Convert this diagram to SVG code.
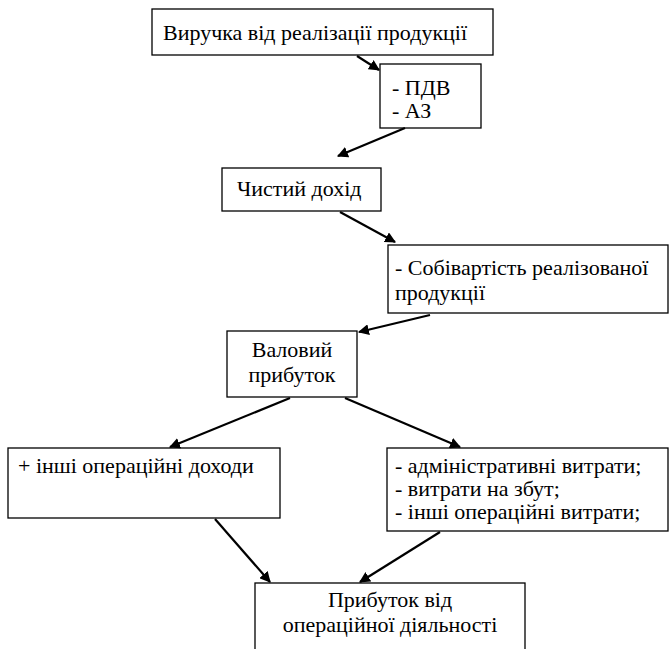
<svg xmlns="http://www.w3.org/2000/svg" width="670" height="649" viewBox="0 0 670 649">
<style>
.box{fill:#fff;stroke:#000;stroke-width:1.3}
.t{font-family:'Liberation Serif','Times New Roman',serif;font-size:22px;fill:#000}
.c{text-anchor:middle}
</style>
<defs>
<marker id="ah" viewBox="0 0 10 10" refX="9" refY="5" markerWidth="5" markerHeight="5" orient="auto" markerUnits="strokeWidth">
<path d="M0,0 L10,5 L0,10 z" fill="#000"/>
</marker>
</defs>
<rect width="670" height="649" fill="#fff"/>
<g id="n1"><rect class="box" x="152" y="9" width="341" height="46"/><text class="t" x="163" y="40">Виручка від реалізації продукції</text></g>
<g id="n2"><rect class="box" x="380" y="64" width="101" height="64"/><text class="t" x="392" y="95">- ПДВ</text><text class="t" x="392" y="118">- АЗ</text></g>
<g id="n3"><rect class="box" x="222" y="168" width="159" height="43"/><text class="t" x="237" y="196">Чистий дохід</text></g>
<g id="n4"><rect class="box" x="388" y="245" width="280" height="68"/><text class="t" x="395" y="275">- Собівартість реалізованої</text><text class="t" x="395" y="300">продукції</text></g>
<g id="n5"><rect class="box" x="227" y="331" width="130" height="66"/><text class="t c" x="292" y="357">Валовий</text><text class="t c" x="292" y="382">прибуток</text></g>
<g id="n6"><rect class="box" x="8" y="448" width="272" height="70"/><text class="t" x="18" y="473">+ інші операційні доходи</text></g>
<g id="n7"><rect class="box" x="387" y="448" width="281" height="83"/><text class="t" x="395" y="473">- адміністративні витрати;</text><text class="t" x="395" y="496">- витрати на збут;</text><text class="t" x="395" y="519">- інші операційні витрати;</text></g>
<g id="n8"><rect class="box" x="255" y="583" width="270" height="80"/><text class="t c" x="390" y="607">Прибуток від</text><text class="t c" x="390" y="632">операційної діяльності</text></g>
<g id="connectors" stroke="#000" stroke-width="2.2" marker-end="url(#ah)">
<line x1="357" y1="56" x2="379" y2="70"/>
<line x1="405" y1="128" x2="338" y2="156"/>
<line x1="340" y1="212" x2="395" y2="242"/>
<line x1="430" y1="315" x2="359" y2="332"/>
<line x1="290" y1="398" x2="170" y2="447"/>
<line x1="345" y1="398" x2="460" y2="447"/>
<line x1="215" y1="519" x2="270" y2="582"/>
<line x1="440" y1="532" x2="360" y2="582"/>
</g>
</svg>
